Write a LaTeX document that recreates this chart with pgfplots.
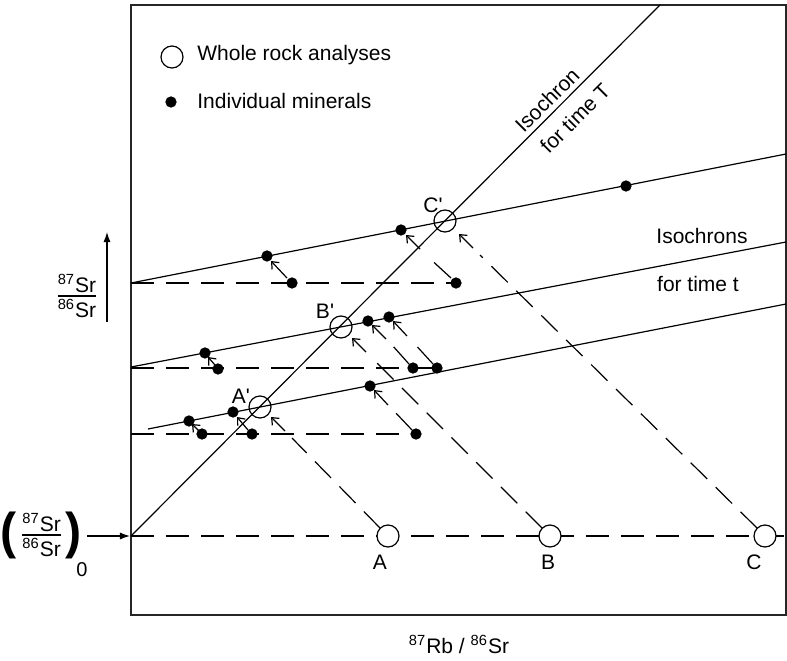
\documentclass[border=0pt]{standalone}
\usepackage{graphicx}
\usepackage{pgfplots}
\pgfplotsset{compat=1.18}
\usetikzlibrary{arrows.meta}
\usepackage{fontspec}
\setmainfont{Liberation Sans}
\newfontfamily\pfont{Liberation Sans}
\newcommand\pr{{\pfont'}}
\newcommand\srfrac{\vbox{\hbox{\textsuperscript{87}Sr}\kern1.5pt\hrule height 0.55pt\kern1.5pt\hbox{\textsuperscript{86}Sr}}}
\newcommand\bigparen[1]{\vcenter{\hbox{\scalebox{2.3}[2.4]{\bfseries #1}}}}
\begin{document}
\fontsize{10.5}{12.6}\selectfont
\begin{tikzpicture}[font=\fontsize{10.5}{12.6}\selectfont]
\begin{axis}[
  scale only axis, width=327.5pt, height=305pt,
  xmin=131, xmax=786, ymin=5, ymax=615, y dir=reverse,
  axis line style={line width=0.9pt, black!85},
  xtick=\empty, ytick=\empty, clip=false,
  dashedl/.style={black, line width=0.6pt, dash pattern=on 11.5pt off 6pt},
  solidl/.style={black, line width=0.6pt},
  arr/.style={black, line width=0.6pt, -{Straight Barb[length=3pt,width=5pt]}},
  bigarr/.style={black, line width=0.6pt, -{Latex[length=5pt,width=3.5pt]}},
  wr/.style={only marks, mark=*, mark size=5.5pt, mark options={fill=white, draw=black, line width=0.6pt}},
  wrp/.style={only marks, mark=o, mark size=5.5pt, mark options={draw=black, line width=0.6pt}},
  mn/.style={only marks, mark=*, mark size=2.6pt, mark options={fill=black, draw=black}},
]
\path (axis cs:0,0) rectangle (axis cs:787,658);
% isochron for time T
\addplot[solidl] coordinates {(131,536) (660,5)};
% isochrons for time t
\addplot[solidl] coordinates {(148,429) (786,304)};
\addplot[solidl] coordinates {(131,367) (786,242)};
\addplot[solidl] coordinates {(131,283) (786,154)};
% initial (dashed) horizontals
\addplot[dashedl] coordinates {(131,536) (786,536)};
\addplot[dashedl] coordinates {(131,434) (416,434)};
\addplot[dashedl] coordinates {(131,368) (437,368)};
\addplot[dashedl] coordinates {(131,283) (456,283)};
% dashed evolution paths
\addplot[dashedl] coordinates {(451,278) (427,256)};
\addplot[dashedl] coordinates {(757,528) (480,255)};
\addplot[dashedl] coordinates {(542,528) (373,359)};
\addplot[dashedl] coordinates {(380,528) (292,438)};
\addplot[dashedl] coordinates {(409,364) (392,345)};
\addplot[dashedl] coordinates {(433,364) (412,341)};
\addplot[dashedl] coordinates {(412,430) (394,411)};
% arrows
\addplot[arr] coordinates {(420,249) (406,235)};
\addplot[arr] coordinates {(473,248) (459,234)};
\addplot[arr] coordinates {(366,352) (352,338)};
\addplot[arr] coordinates {(285,431) (271,417)};
\addplot[arr] coordinates {(386,339) (372,325)};
\addplot[arr] coordinates {(407,336) (393,321)};
\addplot[arr] coordinates {(388,405) (374,390)};
\addplot[arr] coordinates {(287,278) (271,261)};
\addplot[arr] coordinates {(215,365) (208,357)};
\addplot[arr] coordinates {(199,431) (192,424)};
\addplot[arr] coordinates {(248,430) (237,417)};
% whole rock analyses
\addplot[wr] coordinates {(388,536) (550,536) (765,536)};
\addplot[wrp] coordinates {(260,407) (341,327) (445,221)};
% individual minerals
\addplot[mn] coordinates {(267,256) (401,230) (626,186) (292,283) (456,283)};
\addplot[mn] coordinates {(205,353) (368,321) (389,317) (218,369) (413,368) (437,368)};
\addplot[mn] coordinates {(189,421) (233,412) (370,386) (202,434) (252,434) (416,434)};
% legend symbols
\addplot[wrp] coordinates {(172,57)};
\addplot[mn] coordinates {(171,102)};
% left axis arrows
\addplot[bigarr] coordinates {(107,322) (107,232)};
\addplot[bigarr] coordinates {(87,536) (130,536)};
% texts
\node[anchor=west] at (axis cs:190,55) {Whole rock analyses};
\node[anchor=west] at (axis cs:190,101) {Individual minerals};
\node[rotate=45] at (axis cs:547,100) {Isochron};
\node[rotate=45] at (axis cs:575,118) {for time T};
\node at (axis cs:702,236) {Isochrons};
\node at (axis cs:698,284) {for time t};
\node at (axis cs:241,396) {A\pr};
\node at (axis cs:325,311) {B\pr};
\node at (axis cs:433,205) {C\pr};
\node at (axis cs:380,562) {A};
\node at (axis cs:548,562) {B};
\node at (axis cs:754,562) {C};
\node at (axis cs:459,644) {\textsuperscript{87}Rb / \textsuperscript{86}Sr};
\node at (axis cs:77,296) {\srfrac};
\node[inner sep=0pt] at (axis cs:41,535) {$\bigparen{(}\mkern5mu\vcenter{\srfrac}\mkern4mu\bigparen{)}$};
\node at (axis cs:82,570) {\fontsize{10}{12}\selectfont 0};
\end{axis}
\end{tikzpicture}
\end{document}
